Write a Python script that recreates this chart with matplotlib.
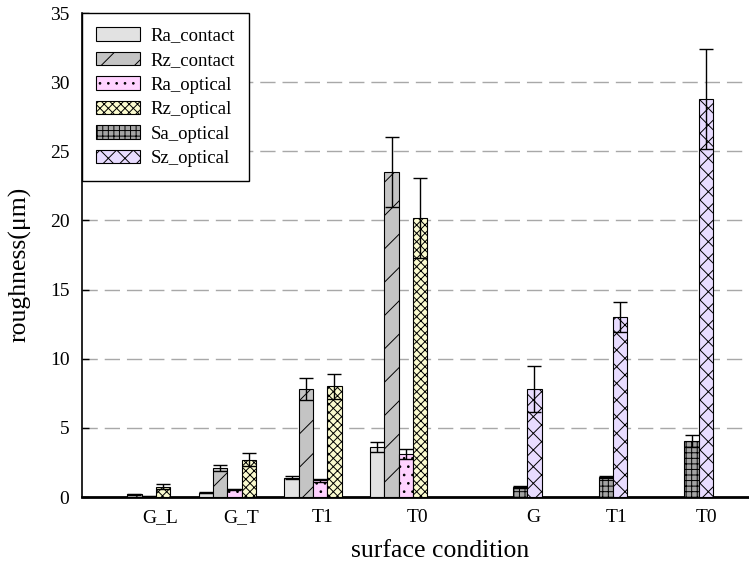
import numpy as np
import matplotlib
matplotlib.use("Agg")
import matplotlib.pyplot as plt

plt.rcParams['font.family'] = ['Liberation Serif', 'DejaVu Serif']
plt.rcParams['hatch.linewidth'] = 0.7
plt.rcParams['hatch.color'] = 'black'

groups = ['G_L', 'G_T', 'T1', 'T0', 'G', 'T1', 'T0']
label_pos = [0.05, 1.0, 1.95, 3.05, 4.40, 5.38, 6.42]

series = ['Ra_contact', 'Rz_contact', 'Ra_optical', 'Rz_optical', 'Sa_optical', 'Sz_optical']
ra_contact = [0, 0.3, 1.4, 3.6, 0, 0, 0]
ra_contact_err = [0, 0.03, 0.12, 0.35, 0, 0, 0]
rz_contact = [0.2, 2.1, 7.8, 23.5, 0, 0, 0]
rz_contact_err = [0.04, 0.2, 0.8, 2.5, 0, 0, 0]
ra_optical = [0.05, 0.55, 1.2, 3.1, 0, 0, 0]
ra_optical_err = [0.02, 0.05, 0.1, 0.35, 0, 0, 0]
rz_optical = [0.75, 2.7, 8.0, 20.2, 0, 0, 0]
rz_optical_err = [0.2, 0.45, 0.9, 2.9, 0, 0, 0]
sa_optical = [0, 0, 0, 0, 0.75, 1.45, 4.05]
sa_optical_err = [0, 0, 0, 0, 0.08, 0.08, 0.45]
sz_optical = [0, 0, 0, 0, 7.8, 13.0, 28.8]
sz_optical_err = [0, 0, 0, 0, 1.65, 1.1, 3.6]

values = [ra_contact, rz_contact, ra_optical, rz_optical, sa_optical, sz_optical]
errors = [ra_contact_err, rz_contact_err, ra_optical_err, rz_optical_err, sa_optical_err, sz_optical_err]
faces = ['#e2e2e2', '#c4c4c4', '#ffd2ff', '#fbfbcf', '#a4a4a4', '#e8dcff']
hatches = [None, '/', '..', 'xxxx', '+++', 'xx']

fig = plt.figure(figsize=(7.49, 5.69), dpi=100)
ax = fig.add_axes([82/749, (569-497)/569, (748-82)/749, (497-13)/569])

n = len(series)
w = 1.0 / n
x = np.arange(len(groups))
handles = []
for j in range(n):
    v = np.array(values[j], dtype=float)
    e = np.array(errors[j], dtype=float)
    mask = v > 0
    xs = x[mask] - 0.5 + (j + 0.5) * w
    b = ax.bar(xs, v[mask], width=w, color=faces[j], edgecolor='black',
               linewidth=0.8, hatch=hatches[j], label=series[j], zorder=3)
    ax.errorbar(xs, v[mask], yerr=e[mask], fmt='none', ecolor='black',
                elinewidth=1.0, capsize=5, capthick=1.0, zorder=4)
    handles.append(b)

ax.set_xlim(-0.862, 6.909)
ax.set_ylim(0, 35)
ax.set_yticks(range(0, 36, 5))
ax.set_xticks(label_pos)
ax.set_xticklabels(groups)
ax.tick_params(axis='x', length=0, pad=9, labelsize=14)
ax.tick_params(axis='y', direction='in', length=5, width=1, pad=9, labelsize=14)
for yv in range(5, 35, 5):
    ax.axhline(yv, color='#a8a8a8', linewidth=1.0, linestyle=(0, (11, 5)), zorder=1)

ax.spines['top'].set_visible(False)
ax.spines['right'].set_visible(False)
ax.spines['left'].set_linewidth(1.2)
ax.spines['bottom'].set_linewidth(2.0)

ax.text(-0.093, 0.48, 'roughness(\u03bcm)', transform=ax.transAxes, rotation=90,
        ha='center', va='center', fontsize=18.5)
ax.text(0.5375, -0.112, 'surface condition', transform=ax.transAxes,
        ha='center', va='center', fontsize=18.5)

leg = ax.legend(handles=handles, loc='upper left', bbox_to_anchor=(0, 1),
                borderaxespad=0, fancybox=False, framealpha=1, edgecolor='black',
                fontsize=13.5, handlelength=2.35, handleheight=0.75,
                labelspacing=0.38, handletextpad=0.55, borderpad=0.75)
leg.get_frame().set_linewidth(1.0)

fig.savefig('out.png', dpi=100)
